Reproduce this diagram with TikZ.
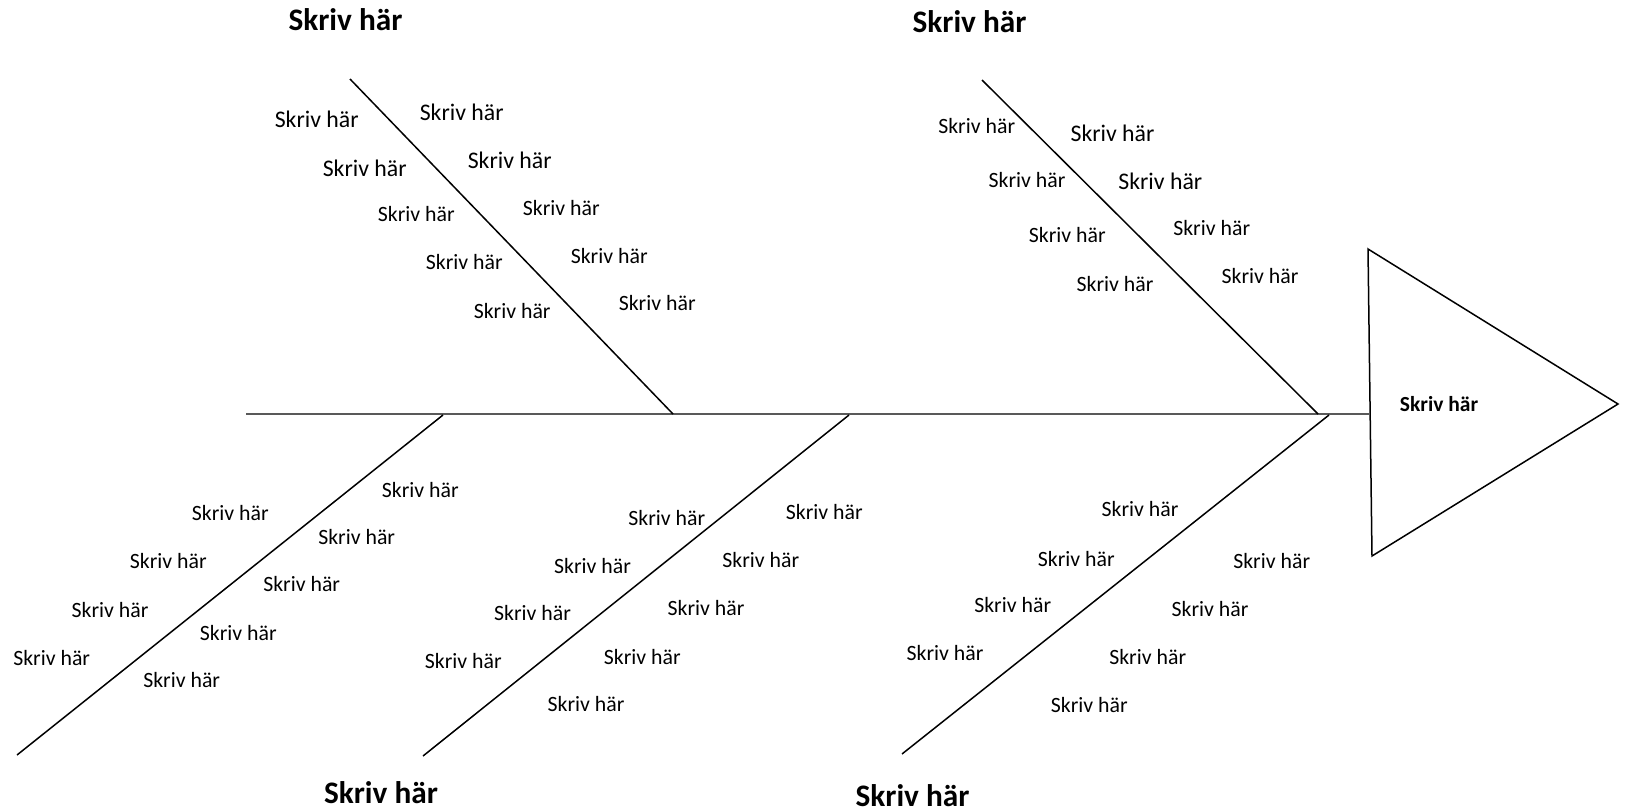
\documentclass[tikz,border=0pt]{standalone}
\usepackage{fontspec}
\setmainfont{Carlito}
\begin{document}
\begin{tikzpicture}[x=1pt,y=-1pt,
  bone/.style={draw=black,line width=1.5pt},
  spine/.style={draw=black!65,line width=1.6pt},
  lbl/.style={font=\fontsize{21.8}{24}\selectfont,anchor=base,inner sep=0pt},
  lblbig/.style={font=\fontsize{23.8}{26}\selectfont,anchor=base,inner sep=0pt},
  ttl/.style={font=\bfseries\fontsize{31.3}{34}\selectfont,anchor=base,inner sep=0pt},
  effect/.style={font=\bfseries\fontsize{21.5}{24}\selectfont,anchor=base,inner sep=0pt}]
\useasboundingbox (0,0) rectangle (1628,809);
% coordinates
\coordinate (s0) at (246,414);
\coordinate (tA) at (1368,249);
\coordinate (tB) at (1372,556);
\coordinate (tC) at (1618,404);
\coordinate (tM) at (1369,414);
\coordinate (b1a) at (350,79);  \coordinate (b1b) at (673,414);
\coordinate (b2a) at (982,80);  \coordinate (b2b) at (1318,414);
\coordinate (b3a) at (443,415); \coordinate (b3b) at (17,755);
\coordinate (b4a) at (849,415); \coordinate (b4b) at (423,756);
\coordinate (b5a) at (1329,415);\coordinate (b5b) at (902,754);
% spine and bones
\draw[spine] (s0) -- (tM);
\draw[bone] (b1a) -- (b1b);
\draw[bone] (b2a) -- (b2b);
\draw[bone] (b3a) -- (b3b);
\draw[bone] (b4a) -- (b4b);
\draw[bone] (b5a) -- (b5b);
\draw[bone,line join=miter] (tA) -- (tC) -- (tB) -- cycle;
\node[effect] (eff) at (1439,411.5) {Skriv här};
% titles
\node[ttl] (t1) at (345.5,30) {Skriv här};
\node[ttl] (t2) at (969.5,32) {Skriv här};
\node[ttl] (t3) at (381,803) {Skriv här};
\node[ttl] (t4) at (912.5,806) {Skriv här};
% top-left bone labels
\node[lblbig] (a1) at (316.7,127.7) {Skriv här};
\node[lblbig] (a2) at (364.7,176) {Skriv här};
\node[lbl] (a3) at (416.3,221.7) {Skriv här};
\node[lbl] (a4) at (464.3,269.3) {Skriv här};
\node[lbl] (a5) at (512.2,318.3) {Skriv här};
\node[lblbig] (a6) at (461.7,120.7) {Skriv här};
\node[lblbig] (a7) at (509.7,168.3) {Skriv här};
\node[lbl] (a8) at (561.3,215) {Skriv här};
\node[lbl] (a9) at (609.2,263.3) {Skriv här};
\node[lbl] (a10) at (657.2,310.7) {Skriv här};
% top-right bone labels
\node[lbl] (c1) at (976.7,133.3) {Skriv här};
\node[lbl] (c2) at (1027,187.3) {Skriv här};
\node[lbl] (c3) at (1067.3,242.7) {Skriv här};
\node[lbl] (c4) at (1115,291) {Skriv här};
\node[lblbig] (c5) at (1112.5,141) {Skriv här};
\node[lblbig] (c6) at (1160.3,189) {Skriv här};
\node[lbl] (c7) at (1211.7,235.7) {Skriv här};
\node[lbl] (c8) at (1260,283.3) {Skriv här};
% bottom-left bone labels
\node[lbl] (d1) at (230.3,520.7) {Skriv här};
\node[lbl] (d2) at (168.3,568.3) {Skriv här};
\node[lbl] (d3) at (110,617.3) {Skriv här};
\node[lbl] (d4) at (51.7,665) {Skriv här};
\node[lbl] (d5) at (420.3,497.3) {Skriv här};
\node[lbl] (d6) at (356.7,544) {Skriv här};
\node[lbl] (d7) at (301.7,591) {Skriv här};
\node[lbl] (d8) at (238.3,640.7) {Skriv här};
\node[lbl] (d9) at (181.7,687.3) {Skriv här};
% bottom-middle bone labels
\node[lbl] (e1) at (666.8,525) {Skriv här};
\node[lbl] (e2) at (592.5,573.3) {Skriv här};
\node[lbl] (e3) at (532.5,620.7) {Skriv här};
\node[lbl] (e4) at (463.3,668.3) {Skriv här};
\node[lbl] (e5) at (824.3,519.3) {Skriv här};
\node[lbl] (e6) at (760.8,567.7) {Skriv här};
\node[lbl] (e7) at (706,615) {Skriv här};
\node[lbl] (e8) at (642.3,664) {Skriv här};
\node[lbl] (e9) at (586,711.7) {Skriv här};
% bottom-right bone labels
\node[lbl] (f1) at (1140,516.7) {Skriv här};
\node[lbl] (f2) at (1076.3,566) {Skriv här};
\node[lbl] (f3) at (1012.7,612.7) {Skriv här};
\node[lbl] (f4) at (945,660.7) {Skriv här};
\node[lbl] (f5) at (1271.7,568.3) {Skriv här};
\node[lbl] (f6) at (1210,616) {Skriv här};
\node[lbl] (f7) at (1147.7,664) {Skriv här};
\node[lbl] (f8) at (1089.3,712.3) {Skriv här};
\end{tikzpicture}
\end{document}
